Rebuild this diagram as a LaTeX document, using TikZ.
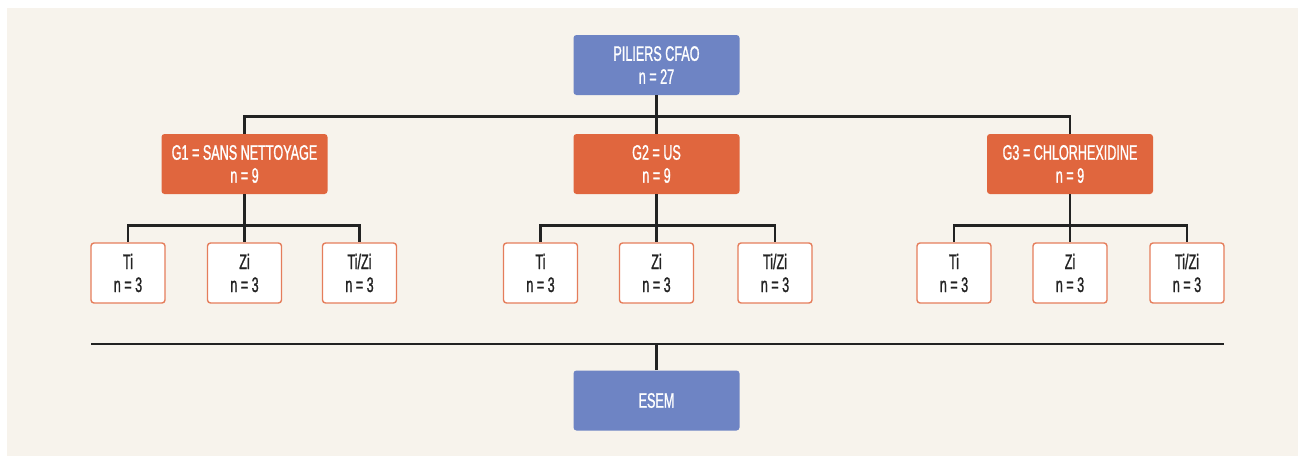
\documentclass[tikz,border=0pt]{standalone}
\usepackage{fontspec}
\setmainfont{Liberation Sans}[FakeStretch=0.6,FakeBold=1]
\definecolor{bg}{HTML}{F7F3EC}
\definecolor{cblue}{HTML}{6E84C4}
\definecolor{corange}{HTML}{E0663E}
\definecolor{cline}{HTML}{222222}
\begin{document}
\begin{tikzpicture}[x=0.5pt,y=-0.5pt,
  box/.style={rounded corners=1.5pt, align=center, inner sep=0pt, font=\fontsize{10.5}{11.5}\selectfont},
  bluebox/.style={box, fill=cblue, text=white, minimum width=83pt, minimum height=30pt},
  grpbox/.style={box, fill=corange, text=white, minimum width=83pt, minimum height=30pt},
  leafbox/.style={box, fill=white, draw=corange!85!white, line width=0.7pt, text=cline, minimum width=37pt, minimum height=30pt},
  conn/.style={draw=cline, line width=1.1pt}]
\fill[bg] (7,8) rectangle (1298,456);
\useasboundingbox (0,0) rectangle (1298,456);
\node[bluebox] (top) at (656.5,65) {PILIERS CFAO\\n = 27};
\node[grpbox] (g1) at (244.5,164) {G1 = SANS NETTOYAGE\\n = 9};
\node[grpbox] (g2) at (656.5,164) {G2 = US\\n = 9};
\node[grpbox] (g3) at (1070,164) {G3 = CHLORHEXIDINE\\n = 9};
\node[leafbox] (a1) at (128,273) {Ti\\n = 3};
\node[leafbox] (a2) at (244.5,273) {Zi\\n = 3};
\node[leafbox] (a3) at (359.5,273) {Ti/Zi\\n = 3};
\node[leafbox] (b1) at (540.5,273) {Ti\\n = 3};
\node[leafbox] (b2) at (656.5,273) {Zi\\n = 3};
\node[leafbox] (b3) at (775,273) {Ti/Zi\\n = 3};
\node[leafbox] (c1) at (954,273) {Ti\\n = 3};
\node[leafbox] (c2) at (1070,273) {Zi\\n = 3};
\node[leafbox] (c3) at (1187,273) {Ti/Zi\\n = 3};
\node[bluebox] (esem) at (656.5,400.5) {ESEM};
\draw[conn] (top.south) -- ++(0,21) -| (g1.north);
\draw[conn] (top.south) -- ++(0,21) -| (g3.north);
\draw[conn] (top.south) -- (g2.north);
\foreach \g/\l/\m/\r in {g1/a1/a2/a3, g2/b1/b2/b3, g3/c1/c2/c3}{
  \draw[conn] (\g.south) -- ++(0,31) -| (\l.north);
  \draw[conn] (\g.south) -- ++(0,31) -| (\r.north);
  \draw[conn] (\g.south) -- (\m.north);
}
\coordinate (bl) at (91,344);
\coordinate (br) at (1224,344);
\draw[conn] (bl) -- (br);
\draw[conn] (esem.north) -- (esem.north |- bl);
\end{tikzpicture}
\end{document}
